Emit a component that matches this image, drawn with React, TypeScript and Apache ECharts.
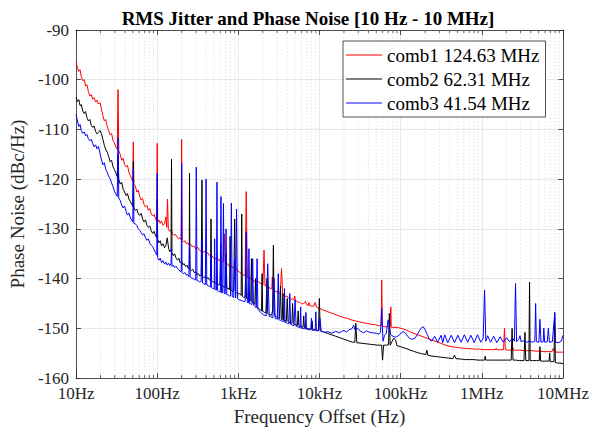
import React, { useEffect, useRef } from "react";
import * as echarts from "echarts";

const xTickValues = [10, 100, 1000, 10000, 100000, 1000000, 10000000];
const xTickLabels = ["10Hz", "100Hz", "1kHz", "10kHz", "100kHz", "1MHz", "10MHz"];
const yMin = -160;
const yMax = -90;
const yStep = 10;
const minorMultipliers = [2, 3, 4, 5, 6, 7, 8, 9];

const seriesNames = ["comb1 124.63 MHz", "comb2 62.31 MHz", "comb3 41.54 MHz"];
const seriesColors = ["#ff0000", "#000000", "#0000ff"];

// comb1 (red): [frequency offset Hz, dBc/Hz]
const comb1: [number, number][] = [
  [10, -96.4], [10.4, -97.6], [10.8, -98.3], [11.2, -98.0], [11.6, -99.4], [12.1, -100.2], [12.6, -100.0], [13.1, -101.3], [13.6, -101.0],
  [14.2, -102.4], [14.8, -103.3], [15.4, -103.0], [16.0, -103.9], [16.7, -103.6], [17.4, -104.5], [18.1, -104.1], [18.9, -104.9], [19.7, -104.6],
  [20.5, -105.8], [21.4, -107.2], [22.3, -108.3], [23.2, -108.0], [24.2, -109.4], [25.2, -110.2], [26.3, -111.1], [27.4, -110.8], [28.5, -112.2],
  [29.7, -112.7], [31.0, -113.6], [32.2, -114.0], [32.9, -102.0], [33.6, -114.3], [35.0, -115.0], [36.5, -116.2], [38.0, -115.8], [39.6, -117.1],
  [41.3, -117.5], [43.0, -117.2], [44.8, -118.6], [46.7, -119.3], [48.6, -120.0], [50.0, -120.5], [50.8, -112.5], [51.6, -121.0], [53.8, -121.4],
  [56.0, -122.6], [58.4, -122.2], [60.8, -123.5], [63.4, -124.2], [66.0, -123.9], [68.8, -125.1], [71.7, -125.6], [74.7, -125.3], [77.8, -126.3],
  [81.0, -125.9], [84.4, -127.0], [88.0, -127.4], [91.7, -127.1], [95.5, -128.0], [98.8, -128.4], [100, -112.8], [101.3, -128.6], [105, -128.2],
  [109, -128.9], [113, -128.4], [118, -129.3], [123, -129.0], [128, -127.6], [131, -129.7], [134, -124.0], [137, -130.0], [143, -130.5],
  [149, -130.2], [155, -131.0], [161, -131.3], [168, -131.1], [175, -131.6], [182, -132.0], [190, -131.8], [197, -132.2], [200, -112.0],
  [203, -132.3], [211, -132.6], [220, -132.4], [229, -133.0], [238, -132.8], [248, -133.3], [258, -133.1], [269, -133.6], [280, -133.4],
  [291, -133.8], [303, -134.0], [316, -133.7], [329, -134.2], [342, -134.4], [356, -134.2], [371, -134.7], [386, -134.5], [402, -135.0],
  [418, -134.8], [435, -135.3], [453, -135.6], [472, -135.4], [491, -135.8], [511, -135.9], [532, -136.1], [554, -135.9], [577, -136.4],
  [600, -136.3], [625, -136.7], [650, -136.5], [670, -131.0], [690, -137.0], [718, -136.8], [747, -137.3], [778, -137.5], [810, -137.3],
  [843, -137.8], [878, -137.7], [914, -138.2], [951, -138.0], [990, -138.5], [1030, -138.7], [1073, -138.9], [1117, -139.1], [1163, -139.3],
  [1210, -139.5], [1250, -122.5], [1290, -139.8], [1343, -140.0], [1398, -139.8], [1456, -140.3], [1515, -140.2], [1577, -140.6], [1642, -140.4],
  [1709, -140.8], [1779, -140.6], [1852, -141.0], [1928, -140.9], [2007, -141.3], [2070, -134.3], [2130, -141.5], [2200, -141.4], [2290, -141.8],
  [2385, -141.7], [2482, -142.1], [2584, -142.0], [2620, -139.7], [2690, -142.3], [2800, -142.4], [2915, -142.7], [3035, -142.6], [3160, -143.0],
  [3290, -142.9], [3400, -138.0], [3520, -143.3], [3660, -143.4], [3810, -143.6], [3970, -143.5], [4130, -143.9], [4300, -144.0], [4480, -144.2],
  [4660, -144.1], [4850, -144.3], [4950, -143.5], [5050, -144.5], [5260, -144.6], [5470, -144.8], [5700, -144.7], [5930, -145.0], [6170, -145.1],
  [6430, -145.0], [6700, -144.6], [6970, -145.3], [7260, -145.4], [7400, -144.8], [7560, -145.4], [7870, -145.5], [8190, -145.6], [8530, -145.5],
  [8800, -144.8], [9250, -145.8], [9630, -145.9], [10000, -146.0], [11000, -146.3], [12300, -146.6], [13800, -146.9], [15500, -147.2],
  [17400, -147.5], [19500, -147.8], [21900, -148.0], [24500, -148.3], [27500, -148.5], [30800, -148.7], [34600, -148.9], [38800, -149.0],
  [43500, -149.2], [48800, -149.3], [54700, -149.5], [57500, -149.5], [58400, -140.3], [59300, -149.6], [64000, -149.7], [72000, -149.7],
  [74500, -149.7], [75500, -145.7], [76500, -149.8], [85000, -149.8], [95000, -149.9], [106000, -150.1], [119000, -150.4], [133000, -150.8],
  [150000, -151.1], [168000, -151.4], [188000, -151.7], [211000, -152.0], [236000, -152.3], [265000, -152.6], [297000, -152.9], [333000, -153.2],
  [373000, -153.5], [418000, -153.7], [469000, -153.8], [526000, -153.9], [590000, -154.0], [661000, -154.1], [741000, -154.1], [831000, -154.2],
  [932000, -154.2], [1045000, -154.3], [1172000, -154.3], [1314000, -154.3], [1473000, -154.3], [1500000, -154.0], [1530000, -154.3],
  [1652000, -154.3], [1852000, -154.3], [1900000, -150.0], [1950000, -154.3], [2077000, -154.4], [2329000, -154.4], [2400000, -153.9],
  [2470000, -154.4], [2611000, -154.4], [2928000, -154.4], [3283000, -154.5], [3681000, -154.5], [4128000, -154.5], [4628000, -154.6],
  [5189000, -154.6], [5818000, -154.7], [6524000, -154.7], [7315000, -154.7], [7600000, -154.0], [7900000, -154.7], [8202000, -154.8],
  [9197000, -154.8], [10000000, -154.8],
];

// comb2 (black)
const comb2: [number, number][] = [
  [10, -103.5], [10.4, -104.4], [10.8, -104.0], [11.2, -105.2], [11.6, -105.0], [12.1, -106.3], [12.6, -106.8], [13.1, -106.4], [13.6, -107.6],
  [14.2, -108.3], [14.8, -108.0], [15.4, -109.2], [16.0, -109.6], [16.7, -109.3], [17.4, -110.4], [18.1, -110.9], [18.9, -110.6], [19.7, -110.2],
  [20.5, -110.8], [21.4, -112.0], [22.3, -113.2], [23.2, -114.0], [24.2, -114.6], [25.2, -115.4], [26.3, -116.5], [27.4, -116.2], [28.5, -117.5],
  [29.7, -118.1], [31.0, -118.8], [32.2, -119.5], [32.9, -115.0], [33.6, -120.0], [35.0, -121.0], [36.5, -120.6], [38.0, -122.0], [39.6, -122.6],
  [41.3, -123.3], [43.0, -122.9], [44.8, -124.0], [46.7, -124.5], [48.6, -125.1], [50.0, -125.5], [50.8, -116.5], [51.6, -125.8], [53.8, -126.3],
  [56.0, -126.0], [58.4, -127.0], [60.8, -127.3], [63.4, -126.9], [66.0, -128.0], [68.8, -128.6], [71.7, -128.2], [74.7, -129.3], [77.8, -129.7],
  [81.0, -129.4], [84.4, -130.4], [88.0, -130.9], [91.7, -130.5], [95.5, -131.4], [98.8, -131.8], [100, -124.0], [101.3, -132.1], [105, -132.8],
  [109, -132.4], [113, -133.4], [118, -133.0], [123, -133.8], [128, -133.3], [133, -131.8], [138, -133.9], [143, -134.6], [148, -134.2],
  [150, -116.0], [152, -134.8], [158, -135.4], [164, -135.0], [171, -135.9], [178, -136.3], [185, -135.9], [192, -136.8], [199, -136.5],
  [207, -137.2], [215, -137.0], [224, -137.6], [233, -137.3], [242, -138.0], [248, -137.8], [250, -118.8], [253, -138.2], [263, -138.4],
  [274, -138.1], [285, -138.8], [297, -138.6], [309, -139.2], [322, -139.0], [335, -139.5], [348, -139.3], [356, -120.2], [362, -139.6],
  [377, -139.8], [392, -139.6], [408, -140.0], [424, -139.8], [441, -140.3], [452, -140.2], [460, -128.0], [468, -140.5], [486, -140.7],
  [506, -140.6], [526, -141.0], [547, -140.8], [569, -141.3], [592, -141.2], [604, -133.0], [615, -141.5], [640, -141.4], [666, -141.8],
  [693, -141.7], [706, -135.0], [720, -142.0], [749, -141.9], [779, -142.3], [790, -131.5], [810, -142.2], [843, -142.6], [876, -142.5],
  [900, -128.0], [925, -142.8], [962, -142.9], [1000, -143.1], [1040, -143.0], [1082, -143.4], [1100, -127.0], [1120, -143.6], [1165, -143.8],
  [1212, -143.7], [1236, -138.0], [1260, -144.0], [1311, -144.1], [1364, -144.3], [1418, -144.5], [1450, -136.0], [1475, -144.7], [1534, -144.9],
  [1596, -145.2], [1628, -140.0], [1660, -145.6], [1727, -145.8], [1796, -146.1], [1868, -146.3], [1930, -146.5], [1960, -139.0], [1990, -146.6],
  [2102, -146.8], [2186, -146.9], [2250, -140.0], [2300, -147.0], [2365, -147.2], [2460, -147.3], [2559, -147.4], [2640, -146.5], [2700, -133.3],
  [2760, -146.8], [2850, -147.6], [2965, -147.7], [3084, -147.9], [3208, -148.0], [3300, -141.5], [3380, -148.2], [3470, -148.3], [3540, -143.0],
  [3609, -148.4], [3754, -148.5], [3905, -148.6], [4000, -144.0], [4100, -148.7], [4224, -148.8], [4394, -148.9], [4570, -149.0], [4660, -145.0],
  [4753, -149.0], [4944, -149.2], [5142, -149.3], [5349, -149.4], [5450, -146.5], [5563, -149.5], [5787, -149.6], [6019, -149.7], [6260, -149.8],
  [6390, -147.5], [6511, -149.9], [6773, -150.0], [7044, -150.0], [7327, -150.1], [7621, -150.1], [7927, -150.2], [8090, -148.5], [8245, -150.2],
  [8576, -150.3], [8920, -150.3], [9278, -150.4], [9700, -150.4], [9950, -144.0], [10200, -150.5], [11000, -150.7], [12400, -151.0], [14000, -151.3],
  [15800, -151.6], [17800, -151.9], [20000, -152.2], [22600, -152.5], [25500, -152.8], [27200, -152.8], [28000, -149.0], [28800, -152.9],
  [32500, -153.0], [36600, -153.1], [41300, -153.2], [46600, -153.3], [52500, -153.4], [58200, -153.4], [59800, -156.4], [61500, -153.4],
  [66500, -153.4], [70800, -153.3], [72500, -147.0], [74200, -153.4], [78500, -152.6], [82500, -152.0], [86500, -152.4], [90000, -153.5],
  [100000, -153.7], [113000, -154.0], [127000, -154.3], [143000, -154.6], [161000, -154.9], [181000, -155.1], [204000, -155.3], [210000, -154.4],
  [216000, -155.4], [243000, -155.6], [274000, -155.7], [308000, -155.8], [347000, -155.9], [391000, -156.0], [440000, -156.1], [460000, -155.4],
  [480000, -156.1], [558000, -156.2], [628000, -156.3], [707000, -156.3], [796000, -156.3], [896000, -156.4], [1009000, -156.4], [1080000, -156.4],
  [1100000, -155.6], [1120000, -156.4], [1280000, -156.4], [1440000, -156.4], [1622000, -156.4], [1826000, -156.4], [2056000, -156.4],
  [2300000, -156.4], [2360000, -150.0], [2420000, -156.4], [2606000, -156.4], [2935000, -156.5], [3304000, -156.5], [3400000, -150.8],
  [3480000, -156.5], [3800000, -156.5], [3870000, -140.7], [3940000, -156.5], [4190000, -156.5], [4718000, -156.5], [5100000, -156.5],
  [5200000, -153.7], [5300000, -156.6], [5980000, -156.6], [6733000, -156.6], [6850000, -155.0], [6970000, -156.7], [7750000, -156.7],
  [7900000, -146.8], [8050000, -156.9], [8580000, -157.0], [9200000, -157.0], [10000000, -157.1],
];

// comb3 (blue)
const comb3: [number, number][] = [
  [10, -107.0], [10.4, -108.3], [10.8, -109.4], [11.2, -109.0], [11.6, -110.2], [12.1, -110.8], [12.6, -110.5], [13.1, -111.3], [13.6, -111.0],
  [14.2, -111.9], [14.8, -112.3], [15.4, -112.0], [16.0, -112.8], [16.7, -113.5], [17.4, -113.1], [18.1, -113.9], [18.9, -113.4], [19.7, -114.8],
  [20.5, -116.0], [21.4, -117.1], [22.3, -116.7], [23.2, -118.0], [24.2, -118.6], [25.2, -119.4], [26.3, -119.9], [27.4, -120.8], [28.5, -121.5],
  [29.7, -122.4], [31.0, -123.0], [32.2, -123.5], [32.9, -111.7], [33.6, -123.8], [35.0, -124.3], [36.5, -125.2], [38.0, -125.8], [39.6, -125.4],
  [41.3, -126.5], [43.0, -127.2], [44.8, -126.8], [46.7, -127.8], [48.6, -128.3], [50.0, -128.6], [50.8, -118.0], [51.6, -128.9], [53.8, -129.0],
  [56.0, -129.3], [58.4, -130.0], [60.8, -130.3], [63.4, -130.8], [66.0, -131.2], [68.8, -131.0], [71.7, -131.8], [74.7, -132.3], [77.8, -132.0],
  [81.0, -132.9], [84.4, -133.3], [88.0, -133.6], [91.7, -134.2], [95.5, -134.8], [98.8, -135.3], [100, -118.8], [101.3, -135.8], [105, -136.3],
  [109, -135.9], [113, -136.8], [118, -136.4], [123, -137.1], [128, -136.7], [133, -137.3], [138, -136.9], [143, -137.4], [148, -137.0],
  [150, -134.0], [152, -137.6], [158, -137.3], [164, -137.8], [171, -137.5], [178, -138.0], [185, -138.2], [192, -138.6], [198, -138.5],
  [200, -116.8], [202, -138.8], [210, -139.0], [219, -138.8], [228, -139.3], [237, -139.2], [246, -139.6], [250, -133.0], [255, -139.7],
  [265, -139.9], [276, -140.0], [287, -140.2], [298, -140.3], [303, -117.6], [309, -140.4], [322, -140.5], [335, -140.7], [348, -140.6],
  [356, -132.0], [362, -140.9], [377, -141.1], [392, -141.2], [400, -120.0], [408, -141.3], [424, -141.4], [441, -141.6], [452, -141.7],
  [458, -135.0], [466, -141.8], [486, -142.0], [503, -142.1], [510, -132.0], [517, -142.2], [537, -142.3], [545, -120.6], [553, -142.4],
  [575, -142.6], [600, -142.7], [610, -123.5], [620, -142.8], [640, -142.9], [655, -124.9], [670, -143.0], [690, -143.1], [705, -130.0],
  [720, -143.2], [749, -143.3], [779, -143.5], [800, -143.5], [820, -124.8], [840, -143.6], [876, -143.8], [900, -136.0], [925, -143.9],
  [950, -126.0], [975, -144.1], [1000, -144.2], [1040, -144.3], [1082, -144.4], [1120, -144.5], [1165, -144.6], [1212, -144.6], [1250, -130.6],
  [1290, -144.8], [1330, -144.9], [1350, -134.0], [1375, -145.0], [1420, -145.1], [1470, -145.2], [1500, -136.0], [1535, -145.3], [1600, -145.6],
  [1660, -145.9], [1700, -136.0], [1740, -146.2], [1810, -146.5], [1880, -146.8], [1960, -147.1], [2040, -147.3], [2120, -147.4], [2200, -147.5],
  [2300, -137.0], [2400, -147.6], [2500, -147.7], [2580, -147.8], [2660, -147.9], [2750, -140.0], [2840, -148.0], [2950, -148.1], [3020, -148.2],
  [3100, -139.0], [3180, -148.3], [3300, -148.4], [3400, -148.5], [3520, -148.6], [3650, -148.7], [3700, -142.0], [3760, -148.8], [3900, -148.9],
  [4050, -149.0], [4200, -149.1], [4300, -143.0], [4400, -149.2], [4560, -149.3], [4720, -149.4], [4850, -149.5], [5000, -144.3], [5150, -149.6],
  [5350, -149.7], [5550, -149.8], [5750, -149.9], [5850, -145.7], [5950, -150.0], [6200, -150.0], [6500, -150.1], [6700, -150.1], [6800, -146.8],
  [6900, -150.2], [7200, -150.2], [7500, -150.3], [7800, -150.3], [7950, -148.0], [8100, -150.4], [8500, -150.4], [8850, -150.4], [9000, -146.7],
  [9150, -150.5], [9800, -150.5], [10100, -148.0], [10500, -150.6], [11500, -150.8], [12800, -150.7], [14200, -151.0], [15800, -150.6],
  [17500, -150.9], [18500, -150.7], [20000, -150.4], [21500, -150.8], [23000, -150.3], [25000, -150.1], [26300, -149.4], [27500, -150.4],
  [29500, -150.0], [32000, -150.6], [35000, -150.9], [38000, -150.5], [41000, -150.8], [45000, -150.9], [50000, -151.0], [54000, -151.2],
  [56500, -150.8], [58400, -146.0], [60500, -152.6], [63000, -151.5], [66500, -151.0], [70000, -148.3], [72500, -149.5], [75000, -151.2],
  [80000, -151.6], [86000, -151.8], [92000, -151.6], [98000, -151.2], [104000, -150.8], [110000, -150.7], [116000, -151.1], [123000, -151.7],
  [131000, -152.1], [140000, -152.2], [150000, -152.0], [160000, -151.3], [170000, -150.5], [180000, -149.9], [190000, -149.7], [200000, -150.3],
  [212000, -151.2], [225000, -152.2], [240000, -152.6], [262000, -151.6], [285000, -152.8], [315000, -151.4], [330000, -152.9], [348000, -151.3],
  [380000, -152.9], [420000, -151.4], [460000, -152.9], [506000, -151.4], [555000, -152.8], [609000, -151.3], [670000, -152.8], [733000, -151.4],
  [805000, -152.9], [883000, -151.3], [970000, -152.8], [1040000, -152.0], [1080000, -142.3], [1120000, -152.6], [1180000, -151.5], [1280000, -152.8],
  [1400000, -151.6], [1530000, -152.9], [1680000, -151.7], [1840000, -152.8], [2020000, -151.9], [2200000, -152.7], [2400000, -152.0],
  [2520000, -152.6], [2600000, -141.0], [2680000, -152.7], [2850000, -152.2], [2950000, -151.5], [3050000, -152.7], [3300000, -152.5],
  [3550000, -152.8], [3850000, -152.6], [4200000, -152.8], [4500000, -152.6], [4600000, -145.0], [4700000, -152.7], [5050000, -152.8],
  [5200000, -148.2], [5350000, -152.8], [5700000, -152.7], [5800000, -150.0], [5950000, -152.8], [6400000, -152.7], [6600000, -150.0],
  [6800000, -152.8], [7400000, -152.7], [7900000, -147.0], [8100000, -152.8], [8800000, -152.9], [9500000, -152.6], [10000000, -151.4],
];

const minorFreqs: [number, number][] = [];
for (let d = 0; d < xTickValues.length - 1; d++) {
  for (const m of minorMultipliers) minorFreqs.push([xTickValues[d] * m, yMin]);
}

const FONT = '"Liberation Serif", "Times New Roman", serif';
const AXIS_COLOR = "#262626";

export default function App() {
  const ref = useRef<HTMLDivElement>(null);
  useEffect(() => {
    document.body.style.margin = "0";
    if (!ref.current) return;
    const chart = echarts.init(ref.current, null, { renderer: "svg" });
    const labelMap: Record<string, string> = {};
    xTickValues.forEach((v, i) => (labelMap[String(v)] = xTickLabels[i]));
    const baseX = {
      type: "log" as const,
      logBase: 10,
      min: xTickValues[0],
      max: xTickValues[xTickValues.length - 1],
      axisLine: { show: true, lineStyle: { color: AXIS_COLOR, width: 0.8 } },
      axisTick: { show: true, inside: true, length: 5, lineStyle: { color: AXIS_COLOR, width: 0.8 } },
    };
    const baseY = {
      type: "value" as const,
      min: yMin,
      max: yMax,
      interval: yStep,
      axisLine: { show: true, lineStyle: { color: AXIS_COLOR, width: 0.8 } },
      axisTick: { show: true, inside: true, length: 5, lineStyle: { color: AXIS_COLOR, width: 0.8 } },
    };
    const datasets = [comb1, comb2, comb3];
    chart.setOption({
      animation: false,
      backgroundColor: "#ffffff",
      title: {
        text: "RMS Jitter and Phase Noise [10 Hz - 10 MHz]",
        left: 303,
        top: 4,
        textAlign: "center",
        textStyle: { fontFamily: FONT, fontSize: 19, fontWeight: "bold", color: "#000" },
      },
      grid: { left: 70, right: 29, top: 30, bottom: 53, containLabel: false },
      legend: {
        data: seriesNames,
        orient: "vertical",
        left: 343,
        top: 41,
        icon: "rect",
        itemWidth: 36,
        itemHeight: 1,
        itemGap: 4,
        padding: [4, 6, 4, 3],
        backgroundColor: "#ffffff",
        borderColor: "#262626",
        borderWidth: 0.8,
        textStyle: { fontFamily: FONT, fontSize: 19, color: "#000", lineHeight: 20 },
      },
      xAxis: [
        {
          ...baseX,
          position: "bottom",
          name: "Frequency Offset (Hz)",
          nameLocation: "middle",
          nameGap: 24,
          nameTextStyle: { fontFamily: FONT, fontSize: 19, color: AXIS_COLOR },
          axisLabel: {
            fontFamily: FONT,
            fontSize: 17,
            color: AXIS_COLOR,
            margin: 7,
            showMinLabel: true,
            showMaxLabel: true,
            formatter: (v: number) => labelMap[String(Math.round(v))] ?? "",
          },
          splitLine: { show: true, lineStyle: { color: "#e2e2e2", width: 0.8 } },
        },
        {
          ...baseX,
          position: "top",
          axisLabel: { show: false },
          splitLine: { show: false },
        },
      ],
      yAxis: [
        {
          ...baseY,
          position: "left",
          name: "Phase Noise (dBc/Hz)",
          nameLocation: "middle",
          nameGap: 43,
          nameTextStyle: { fontFamily: FONT, fontSize: 19, color: AXIS_COLOR },
          axisLabel: { fontFamily: FONT, fontSize: 17, color: AXIS_COLOR, margin: 7 },
          splitLine: { show: true, lineStyle: { color: "#e2e2e2", width: 0.8 } },
        },
        {
          ...baseY,
          position: "right",
          axisLabel: { show: false },
          splitLine: { show: false },
        },
      ],
      series: [
        {
          type: "custom",
          name: "minor-grid",
          xAxisIndex: 0,
          yAxisIndex: 0,
          silent: true,
          z: 1,
          data: minorFreqs,
          encode: { x: 0, y: 1 },
          renderItem: (_p: any, api: any) => {
            const f = api.value(0);
            const b = api.coord([f, yMin]);
            const t = api.coord([f, yMax]);
            return {
              type: "group",
              children: [
                {
                  type: "line",
                  shape: { x1: b[0], y1: b[1], x2: t[0], y2: t[1] },
                  style: { stroke: "#d2d2d2", lineWidth: 0.6, lineDash: [1.5, 2] },
                },
                {
                  type: "line",
                  shape: { x1: b[0], y1: b[1], x2: b[0], y2: b[1] - 3 },
                  style: { stroke: AXIS_COLOR, lineWidth: 0.7 },
                },
                {
                  type: "line",
                  shape: { x1: t[0], y1: t[1], x2: t[0], y2: t[1] + 3 },
                  style: { stroke: AXIS_COLOR, lineWidth: 0.7 },
                },
              ],
            };
          },
        },
        ...seriesNames.map((name, i) => ({
          type: "line",
          name,
          xAxisIndex: 0,
          yAxisIndex: 0,
          data: datasets[i],
          showSymbol: false,
          symbol: "none",
          z: 3 + i,
          color: seriesColors[i],
          lineStyle: { color: seriesColors[i], width: 1 },
          emphasis: { disabled: true },
        })),
      ],
    });
    return () => chart.dispose();
  }, []);
  return <div ref={ref} style={{ width: 592, height: 431 }} />;
}
